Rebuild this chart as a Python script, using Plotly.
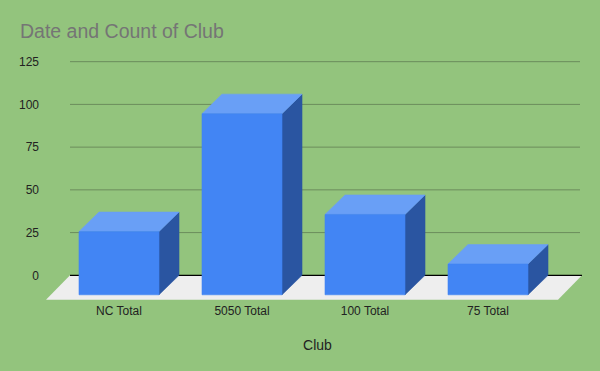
import plotly.graph_objects as go

# ---- data ----
categories = ["NC Total", "5050 Total", "100 Total", "75 Total"]
counts = [37, 106, 47, 18]
y_ticks = [0, 25, 50, 75, 100, 125]
title_text = "Date and Count of Club"
x_title = "Club"

# ---- geometry (in axis units) ----
PX_X = 123.0      # pixels per category unit
PX_Y = 1.709      # pixels per value unit
BAR_W = 80 / PX_X
DX = 20 / PX_X    # depth offset (x)
DY = 19.5 / PX_Y  # depth offset (y)
FDX = 24 / PX_X   # floor depth
FDY = 24.5 / PX_Y
WALL_L = -49 / PX_X
WALL_R = 3 + 92 / PX_X

BG = "#93c47d"
FRONT = "#4285f4"
TOP = "#699ff6"
SIDE = "#2a55a1"
FLOOR = "#eeeeee"
GRID = "#6b8c5c"

fig = go.Figure()

# gridlines on back wall
gx, gy = [], []
for t in y_ticks[1:]:
    gx += [WALL_L, WALL_R, None]
    gy += [t, t, None]
fig.add_trace(go.Scatter(x=gx, y=gy, mode="lines", line=dict(color=GRID, width=1),
                         hoverinfo="skip", showlegend=False))

# floor
n = len(categories)
fx = [WALL_L, WALL_R + 2 / PX_X, WALL_R + 2 / PX_X - FDX, WALL_L - FDX, WALL_L]
fy = [0, 0, -FDY, -FDY, 0]
fig.add_trace(go.Scatter(x=fx, y=fy, mode="lines", fill="toself", fillcolor=FLOOR,
                         line=dict(width=0, color=FLOOR), hoverinfo="skip", showlegend=False))

# zero line
fig.add_trace(go.Scatter(x=[WALL_L, WALL_R + 2 / PX_X], y=[0, 0], mode="lines",
                         line=dict(color="#000000", width=1.3), hoverinfo="skip", showlegend=False))

# bars: side, top, front
sx, sy, tx, ty, frx, fry = [], [], [], [], [], []
for i, v in enumerate(counts):
    l = i - BAR_W / 2
    r = i + BAR_W / 2
    b = -DY
    top = v - DY
    sx += [r, r + DX, r + DX, r, r, None]
    sy += [b, 0, v, top, b, None]
    tx += [l, r, r + DX, l + DX, l, None]
    ty += [top, top, v, v, top, None]
    frx += [l, r, r, l, l, None]
    fry += [b, b, top, top, b, None]

for xs, ys, col in [(sx, sy, SIDE), (tx, ty, TOP), (frx, fry, FRONT)]:
    fig.add_trace(go.Scatter(x=xs, y=ys, mode="lines", fill="toself", fillcolor=col,
                             line=dict(width=0.6, color=col), hoverinfo="skip", showlegend=False))

L, R, T, B = 40, 5, 45, 69
W, H = 600, 371
x0 = -(119 - L) / PX_X
x1 = x0 + (W - L - R) / PX_X
y1 = (275.3 - T) / PX_Y
y0 = y1 - (H - T - B) / PX_Y

fig.update_layout(
    width=W, height=H,
    margin=dict(l=L, r=R, t=T, b=B),
    paper_bgcolor=BG, plot_bgcolor=BG,
    font=dict(family="Liberation Sans, Arial, sans-serif", size=12, color="#222222"),
    title=dict(text=title_text, x=20 / W, xref="container", xanchor="left",
               y=1 - 31 / H, yref="container", yanchor="middle",
               font=dict(size=19.5, color="#757575")),
    xaxis=dict(range=[x0, x1], tickvals=list(range(n)), ticktext=categories,
               showgrid=False, zeroline=False, showline=False, ticks="",
               title=dict(text=x_title, standoff=23), fixedrange=True),
    yaxis=dict(range=[y0, y1], tickvals=y_ticks, showgrid=False, zeroline=False,
               showline=False, ticks="", fixedrange=True),
    showlegend=False,
)

fig.write_html("out.html", config={"displayModeBar": False},
               post_script="document.body.style.margin='0';")
